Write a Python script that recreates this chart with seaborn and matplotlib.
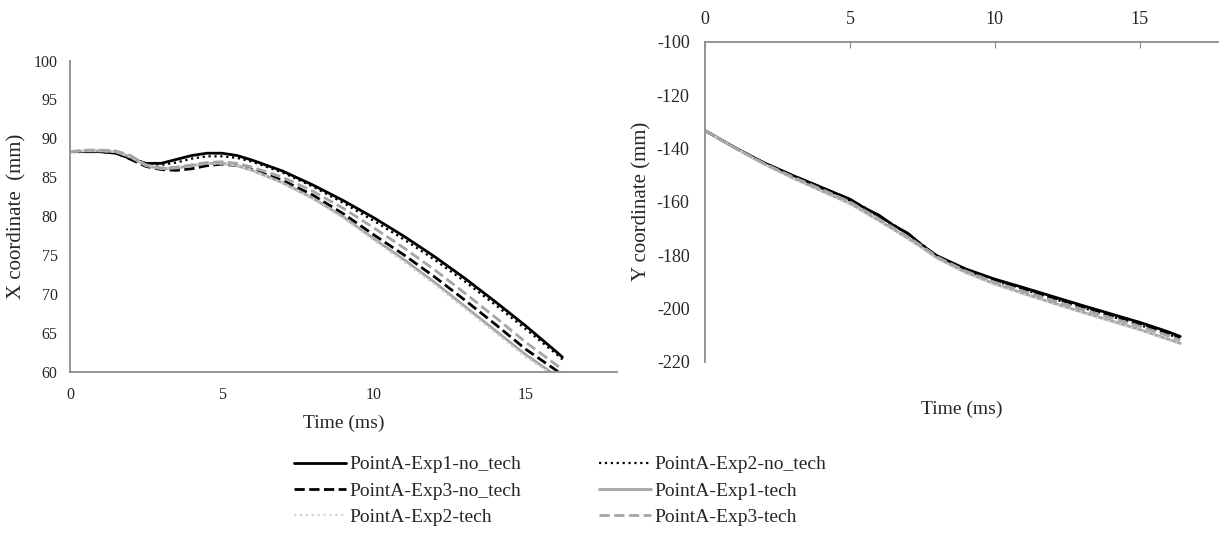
import matplotlib
matplotlib.use("Agg")
import matplotlib.pyplot as plt
import seaborn as sns

# time grids (ms)
t_x = [0, 0.5, 1, 1.5, 2, 2.5, 3, 3.5, 4, 4.5, 5, 5.5, 6, 7, 8, 9, 10, 11, 12, 13, 14, 15, 16, 16.2]
t_y = [0, 1, 2, 3, 4, 5, 5.5, 6, 6.5, 7, 7.5, 8, 9, 10, 11, 12, 13, 14, 15, 16, 16.4]

# X coordinate (mm)
x_exp1_no = [88.3, 88.3, 88.3, 88.1, 87.4, 86.8, 86.8, 87.3, 87.8, 88.1, 88.1, 87.8, 87.2, 85.8, 84.0, 82.0, 79.8, 77.4, 74.8, 72.0, 69.0, 65.9, 62.6, 61.9]
x_exp2_no = [88.3, 88.3, 88.3, 88.2, 87.5, 86.8, 86.6, 86.9, 87.4, 87.7, 87.7, 87.5, 87.0, 85.6, 83.8, 81.7, 79.4, 77.0, 74.4, 71.6, 68.6, 65.5, 62.3, 61.6]
x_exp3_no = [88.3, 88.3, 88.3, 88.2, 87.3, 86.4, 86.0, 85.9, 86.1, 86.5, 86.7, 86.5, 86.0, 84.6, 82.7, 80.3, 77.6, 75.0, 72.2, 69.2, 66.1, 62.9, 60.2, 59.6]
x_exp1_t = [88.3, 88.4, 88.4, 88.3, 87.6, 86.5, 86.1, 86.2, 86.5, 86.8, 86.8, 86.5, 85.9, 84.3, 82.3, 79.9, 77.1, 74.4, 71.5, 68.4, 65.3, 62.2, 59.5, 58.9]
x_exp2_t = [88.3, 88.4, 88.4, 88.3, 87.6, 86.6, 86.2, 86.3, 86.6, 86.8, 86.8, 86.5, 85.9, 84.2, 82.2, 79.7, 76.9, 74.1, 71.2, 68.1, 65.0, 61.9, 59.3, 58.7]
x_exp3_t = [88.3, 88.5, 88.5, 88.4, 87.8, 86.6, 86.2, 86.3, 86.6, 86.9, 87.0, 86.8, 86.3, 85.0, 83.2, 81.0, 78.5, 75.9, 73.1, 70.1, 67.0, 63.8, 60.9, 60.3]

# Y coordinate (mm)
y_exp1_no = [-133.3, -139.5, -145.2, -150.0, -154.5, -159.0, -162.3, -165.0, -168.8, -171.8, -176.3, -180.2, -185.2, -189.0, -192.2, -195.5, -198.8, -202.0, -205.2, -208.8, -210.5]
y_exp2_no = [-133.3, -139.5, -145.3, -150.3, -154.9, -159.5, -162.0, -165.8, -168.5, -172.6, -176.0, -180.6, -185.7, -189.6, -192.9, -196.3, -199.6, -202.9, -206.2, -209.7, -211.4]
y_exp3_no = [-133.3, -139.5, -145.2, -150.1, -154.6, -159.2, -162.6, -165.4, -169.1, -172.2, -176.6, -180.5, -185.5, -189.3, -192.6, -195.9, -199.2, -202.4, -205.6, -209.2, -210.9]
y_exp1_t = [-133.3, -139.6, -145.6, -150.9, -155.8, -160.6, -163.8, -167.0, -170.3, -173.7, -177.2, -181.0, -186.5, -190.8, -194.4, -197.9, -201.3, -204.6, -207.9, -211.6, -213.1]
y_exp2_t = [-133.3, -139.6, -145.7, -151.1, -156.0, -160.9, -164.1, -167.3, -170.6, -174.0, -177.5, -181.3, -186.8, -191.1, -194.7, -198.2, -201.6, -204.9, -208.2, -211.9, -213.5]
y_exp3_t = [-133.3, -139.5, -145.4, -150.5, -155.2, -160.0, -163.2, -166.4, -169.7, -173.1, -176.7, -180.6, -186.0, -190.2, -193.6, -197.0, -200.3, -203.5, -206.7, -210.3, -211.9]

labels = ["PointA-Exp1-no_tech", "PointA-Exp2-no_tech", "PointA-Exp3-no_tech",
          "PointA-Exp1-tech", "PointA-Exp2-tech", "PointA-Exp3-tech"]
styles = [("#000000", "-", 2.0), ("#000000", ":", 1.6), ("#000000", "--", 2.0),
          ("#a6a6a6", "-", 2.0), ("#d4d4d4", ":", 1.6), ("#a6a6a6", "--", 2.0)]

sns.set_style("white")
plt.rcParams["font.family"] = ["Liberation Serif", "DejaVu Serif"]
plt.rcParams["axes.unicode_minus"] = False

fig = plt.figure(figsize=(12.24, 5.36), dpi=100)
ax_x = fig.add_axes([0.0572, 0.306, 0.447, 0.581])
ax_y = fig.add_axes([0.576, 0.325, 0.419, 0.597])

x_series = [x_exp1_no, x_exp2_no, x_exp3_no, x_exp1_t, x_exp2_t, x_exp3_t]
y_series = [y_exp1_no, y_exp2_no, y_exp3_no, y_exp1_t, y_exp2_t, y_exp3_t]

for vals, lab, (c, ls, lw) in zip(x_series, labels, styles):
    sns.lineplot(x=t_x, y=vals, ax=ax_x, color=c, linestyle=ls, linewidth=lw, label=lab)
for vals, lab, (c, ls, lw) in zip(y_series, labels, styles):
    sns.lineplot(x=t_y, y=vals, ax=ax_y, color=c, linestyle=ls, linewidth=lw, label=lab)

axis_grey = "#8c8c8c"

# left panel
ax_x.set_xlim(0, 18)
ax_x.set_ylim(60, 100)
ax_x.set_xticks([0, 5, 10, 15])
ax_x.set_yticks(range(60, 101, 5))
ax_x.set_xlabel("Time (ms)", fontsize=14, labelpad=8)
ax_x.set_ylabel("X coordinate  (mm)", fontsize=15, labelpad=5)
for s in ["top", "right"]:
    ax_x.spines[s].set_visible(False)
for s in ["left", "bottom"]:
    ax_x.spines[s].set_color(axis_grey)
    ax_x.spines[s].set_linewidth(1.3)
ax_x.tick_params(axis="both", direction="in", length=3, color=axis_grey, labelsize=11.5)
ax_x.tick_params(axis="x", pad=11)
ax_x.tick_params(axis="y", pad=9)
ax_x.get_legend().remove()

# right panel: x axis on top
ax_y.set_xlim(0, 17.7)
ax_y.set_ylim(-220, -100)
ax_y.set_xticks([0, 5, 10, 15])
ax_y.set_yticks(range(-220, -99, 20))
ax_y.xaxis.tick_top()
ax_y.set_xlabel("Time (ms)", fontsize=14)
ax_y.xaxis.set_label_position("bottom")
ax_y.xaxis.labelpad = 28
ax_y.set_ylabel("Y coordinate (mm)", fontsize=15, labelpad=4)
for s in ["bottom", "right"]:
    ax_y.spines[s].set_visible(False)
for s in ["left", "top"]:
    ax_y.spines[s].set_color(axis_grey)
    ax_y.spines[s].set_linewidth(1.3)
ax_y.tick_params(axis="x", direction="in", length=4, color=axis_grey, labelsize=13, pad=10)
ax_y.tick_params(axis="y", direction="out", length=4, color=axis_grey, labelsize=13, pad=7)
ax_y.get_legend().remove()

# shared legend, row-major order
handles, labs = ax_x.get_legend_handles_labels()
order = [0, 2, 4, 1, 3, 5]
fig.legend([handles[i] for i in order], [labs[i] for i in order],
           ncol=2, loc="center", bbox_to_anchor=(0.4575, 0.084), frameon=False,
           fontsize=14, handlelength=2.7, handletextpad=0.15, columnspacing=4.0,
           labelspacing=0.45)

fig.savefig("out.png", dpi=100)
